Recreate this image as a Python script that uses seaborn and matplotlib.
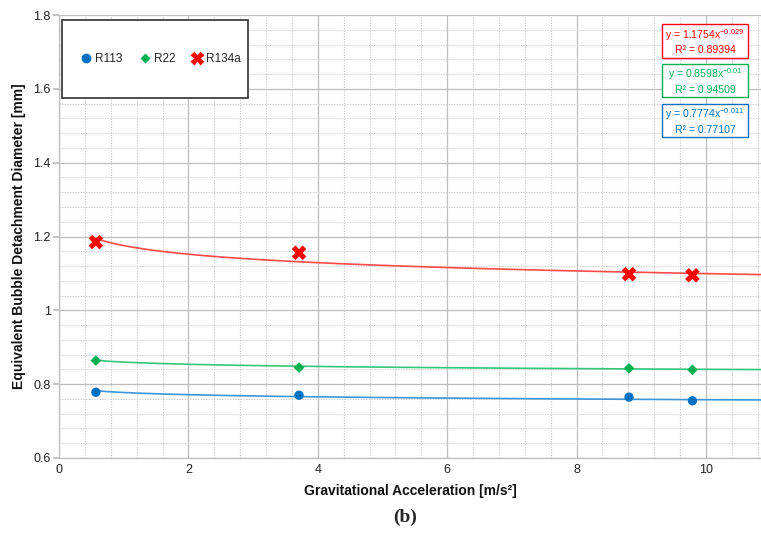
import numpy as np
import pandas as pd
import matplotlib
matplotlib.use("Agg")
import matplotlib.pyplot as plt
from matplotlib.lines import Line2D
from matplotlib.patches import Rectangle
from matplotlib.ticker import MultipleLocator
import seaborn as sns

# ---- data ----
gravity = [0.57, 3.71, 8.81, 9.79]
r113 = [0.778, 0.770, 0.765, 0.755]
r22 = [0.864, 0.845, 0.843, 0.839]
r134a = [1.185, 1.156, 1.098, 1.095]

fluids = ["R113", "R22", "R134a"]
fit_a = [0.7774, 0.8598, 1.1754]
fit_b = [-0.011, -0.01, -0.029]
fit_r2 = ["0.77107", "0.94509", "0.89394"]
fit_a_txt = ["0.7774", "0.8598", "1.1754"]
fit_b_txt = ["-0.011", "-0.01", "-0.029"]

x_ticks = [0, 2, 4, 6, 8, 10]
y_ticks = [0.6, 0.8, 1.0, 1.2, 1.4, 1.6, 1.8]
y_tick_labels = ["0.6", "0.8", "1", "1.2", "1.4", "1.6", "1.8"]

colors = {"R113": "#0070C0", "R22": "#00B050", "R134a": "#FF0000"}
line_colors = {"R113": "#3C96D8", "R22": "#35C67A", "R134a": "#FF4A4A"}
markers = {"R113": "o", "R22": "D", "R134a": "X"}
msizes = {"R113": 45, "R22": 30, "R134a": 110}

sns.set_theme(style="white")
plt.rcParams["font.family"] = ["Liberation Sans", "DejaVu Sans"]
plt.rcParams["mathtext.default"] = "regular"

df = pd.DataFrame({
    "g": gravity * 3,
    "d": r113 + r22 + r134a,
    "fluid": ["R113"] * 4 + ["R22"] * 4 + ["R134a"] * 4,
})

W, H = 761, 541
fig = plt.figure(figsize=(W / 100, H / 100), dpi=100)
ax = fig.add_axes([59 / W, 1 - 458 / H, 1 - 59 / W, (458 - 15) / H])

xmax = 10.85
# fitted power trendlines
xs = np.linspace(gravity[0], xmax + 0.2, 300)
fit_rows = []
for f, a, b in zip(fluids, fit_a, fit_b):
    for xv in xs:
        fit_rows.append({"g": xv, "d": a * xv ** b, "fluid": f})
fit_df = pd.DataFrame(fit_rows)
for f in fluids:
    sns.lineplot(data=fit_df[fit_df.fluid == f], x="g", y="d", color=line_colors[f],
                 lw=1.2, ax=ax, legend=False, zorder=3)

for f in fluids:
    sub = df[df.fluid == f]
    sns.scatterplot(data=sub, x="g", y="d", marker=markers[f], s=msizes[f],
                    color=colors[f], edgecolor="none", ax=ax, legend=False, zorder=4)

ax.set_xlim(0, xmax)
ax.set_ylim(0.6, 1.8)
ax.set_xticks(x_ticks)
ax.set_yticks(y_ticks)
ax.set_yticklabels(y_tick_labels)
ax.xaxis.set_minor_locator(MultipleLocator(0.4))
ax.yaxis.set_minor_locator(MultipleLocator(0.04))
ax.grid(which="major", color="#BEBEBE", lw=0.9, ls="-")
ax.grid(which="minor", color="#CFCFCF", lw=0.8, ls=(0, (1.2, 1.2)))
ax.set_axisbelow(True)
for s in ["top", "right"]:
    ax.spines[s].set_visible(False)
for s in ["left", "bottom"]:
    ax.spines[s].set_color("#BEBEBE")
    ax.spines[s].set_linewidth(0.9)
ax.tick_params(axis="both", which="major", labelsize=9, colors="#BEBEBE",
               labelcolor="#222222", length=4, direction="out")
ax.tick_params(axis="x", which="major", length=0, pad=4)
ax.tick_params(axis="y", which="major", left=True, pad=2)

ax.set_xlabel("Gravitational Acceleration [m/s²]", fontsize=10, fontweight="bold",
              color="#111111", labelpad=6)
ax.set_ylabel("Equivalent Bubble Detachment Diameter [mm]", fontsize=10,
              fontweight="bold", color="#111111", labelpad=5)

# legend box (figure pixel coordinates)
rect = Rectangle((62 / W, 1 - 98 / H), (248 - 62) / W, (98 - 20) / H,
                 transform=fig.transFigure, facecolor="white", edgecolor="#404040",
                 lw=1.3, zorder=5)
fig.patches.append(rect)
handles = [Line2D([], [], ls="none", marker=markers[f], color=colors[f], mec="none",
                  markersize={"R113": 7, "R22": 5.5, "R134a": 9.5}[f]) for f in fluids]
leg = fig.legend(handles, fluids, ncol=3, frameon=False, fontsize=8.5,
                 loc="center", bbox_to_anchor=(160 / W, 1 - 59 / H),
                 handletextpad=0.15, columnspacing=1.3, handlelength=1.2)
leg.set_zorder(6)

# equation boxes (figure pixel coordinates: top, bottom)
eq_boxes = [(104, 137), (64, 97), (24, 58)]
for f, a, b, r2, (top, bot) in zip(fluids, fit_a_txt, fit_b_txt, fit_r2, eq_boxes):
    fig.patches.append(Rectangle((662 / W, 1 - bot / H), (748 - 662) / W, (bot - top) / H,
                                 transform=fig.transFigure, facecolor="white",
                                 edgecolor=colors[f], lw=1.0, zorder=6))
    fig.text(705 / W, 1 - (top + bot) / 2 / H,
             "y = " + a + "x$^{" + b + "}$\nR² = " + r2,
             ha="center", va="center", multialignment="center", fontsize=7.6,
             linespacing=1.3, color=colors[f], zorder=7)

fig.text(405 / W, 1 - 517 / H, "(b)", ha="center", va="center",
         fontsize=14, fontweight="bold", family=["Liberation Serif", "DejaVu Serif"])

fig.savefig("out.png", dpi=100)
